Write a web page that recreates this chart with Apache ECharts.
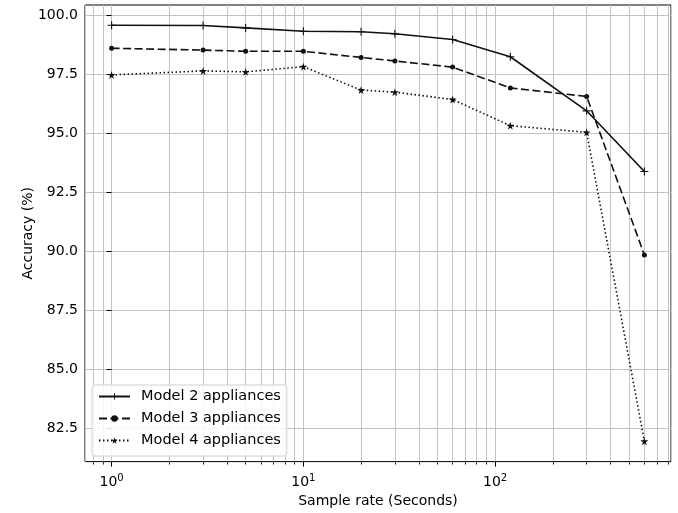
<!DOCTYPE html>
<html><head><meta charset="utf-8">
<script src="https://cdn.jsdelivr.net/npm/echarts@6/dist/echarts.min.js"></script>
<style>html,body{margin:0;padding:0;background:#fff}#c{width:678px;height:513px}</style>
</head><body><div id="c"></div>
<script>
// ---- data ----
const sampleRates = [1, 3, 5, 10, 20, 30, 60, 120, 300, 600];
const model2 = [99.57, 99.56, 99.46, 99.32, 99.30, 99.21, 98.97, 98.24, 95.95, 93.38];
const model3 = [98.60, 98.52, 98.47, 98.47, 98.21, 98.06, 97.80, 96.92, 96.56, 89.85];
const model4 = [97.47, 97.64, 97.60, 97.82, 96.83, 96.74, 96.43, 95.32, 95.04, 81.96];
const seriesNames = ['Model 2 appliances', 'Model 3 appliances', 'Model 4 appliances'];
const yTicks = [82.5, 85, 87.5, 90, 92.5, 95, 97.5, 100];
const xMajorTicks = [1, 10, 100];
const xMinorTicks = [0.8, 0.9, 2, 3, 4, 5, 6, 7, 8, 9, 20, 30, 40, 50, 60, 70, 80, 90, 200, 300, 400, 500, 600, 700, 800];
const xTitle = 'Sample rate (Seconds)';
const yTitle = 'Accuracy (%)';

const X_MIN = 0.7267, X_MAX = 826, Y_MIN = 81.1, Y_MAX = 100.43;
const FONT = 'DejaVu Sans';
const FS = 14;
const GRID_COLOR = '#c4c4c4';

const plusPath = 'path://M4.3,0h1.4v10h-1.4zM0,4.3h10v1.4h-10z';
const starPath = 'path://M50,0 L61,35 L98,35 L68,57 L79,91 L50,70 L21,91 L32,57 L2,35 L39,35 Z';

function pairs(vals) { return sampleRates.map((x, i) => [x, vals[i]]); }

const chart = echarts.init(document.getElementById('c'), null, {renderer: 'canvas'});
const logMin = Math.log10(X_MIN), logMax = Math.log10(X_MAX);

const option = {
  animation: false,
  backgroundColor: '#fff',
  grid: {left: 85, right: 7, top: 5, bottom: 51, show: true, borderColor: '#000', borderWidth: 1, backgroundColor: 'transparent'},
  xAxis: [
    {
      type: 'log', logBase: 10, min: X_MIN, max: X_MAX, position: 'bottom',
      name: xTitle, nameLocation: 'middle', nameGap: 31,
      nameTextStyle: {fontFamily: FONT, fontSize: FS, color: '#000'},
      axisLine: {show: false}, axisTick: {show: false},
      axisLabel: {
        showMinLabel: false, showMaxLabel: false, margin: 12,
        formatter: function (v) { const e = Math.round(Math.log10(v)); return '{b|10}{s|' + e + '}'; },
        rich: {
          b: {fontFamily: FONT, fontSize: FS, color: '#000'},
          s: {fontFamily: FONT, fontSize: 10, color: '#000', padding: [0, 0, 7, 0]}
        }
      },
      splitLine: {show: true, lineStyle: {color: GRID_COLOR, width: 1}}
    },
    {
      type: 'value', min: logMin, max: logMax, position: 'bottom',
      axisLine: {show: false}, axisLabel: {show: false},
      axisTick: {show: true, length: 5, customValues: xMajorTicks.map(Math.log10), lineStyle: {color: '#000', width: 1}},
      splitLine: {show: false}
    },
    {
      type: 'value', min: logMin, max: logMax, position: 'bottom',
      axisLine: {show: false}, axisLabel: {show: false},
      axisTick: {show: true, length: 3, customValues: xMinorTicks.map(Math.log10), lineStyle: {color: '#000', width: 0.8}},
      splitLine: {show: true, lineStyle: {color: GRID_COLOR, width: 1}}
    }
  ],
  yAxis: {
    type: 'value', min: Y_MIN, max: Y_MAX,
    name: yTitle, nameLocation: 'middle', nameGap: 50, nameMoveOverlap: false,
    nameTextStyle: {fontFamily: FONT, fontSize: FS, color: '#000'},
    axisLine: {show: false},
    axisTick: {show: true, length: 5, customValues: yTicks, lineStyle: {color: '#000', width: 1}},
    axisLabel: {customValues: yTicks, margin: 7, fontFamily: FONT, fontSize: FS, color: '#000',
      formatter: v => v.toFixed(1)},
    splitLine: {show: true, lineStyle: {color: GRID_COLOR, width: 1}}
  },
  legend: {
    orient: 'vertical', left: 92, top: 385,
    padding: [4, 6, 8, 6], itemGap: 7, itemWidth: 31, itemHeight: 8,
    backgroundColor: 'rgba(255,255,255,0.85)', borderColor: '#d0d0d0', borderWidth: 1, borderRadius: 3,
    textStyle: {fontFamily: FONT, fontSize: 14.5, color: '#000', padding: [0, 0, 0, 6]},
    data: seriesNames
  },
  series: [
    {name: seriesNames[0], type: 'line', xAxisIndex: 0, data: pairs(model2),
     symbol: plusPath, symbolSize: 8, lineStyle: {color: '#111', width: 1.6, type: 'solid'}, itemStyle: {color: '#111'}},
    {name: seriesNames[1], type: 'line', xAxisIndex: 0, data: pairs(model3),
     symbol: 'circle', symbolSize: 5, lineStyle: {color: '#111', width: 1.6, type: [8, 3.5]}, itemStyle: {color: '#111'}},
    {name: seriesNames[2], type: 'line', xAxisIndex: 0, data: pairs(model4),
     symbol: starPath, symbolSize: 8, lineStyle: {color: '#111', width: 1.6, type: [1.5, 2.5]}, itemStyle: {color: '#111'}}
  ]
};
chart.setOption(option);
</script>
</body></html>
